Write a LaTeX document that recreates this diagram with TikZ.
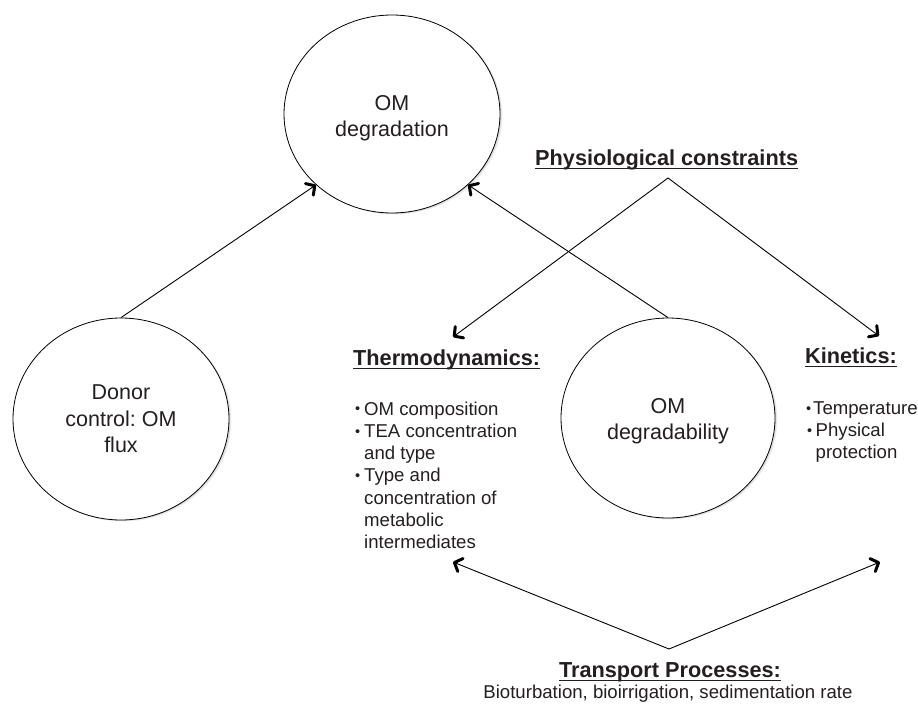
\documentclass[tikz,border=0pt]{standalone}
\usepackage{fontspec}
\setmainfont{Liberation Sans}
\usetikzlibrary{shapes.geometric,arrows.meta,shadows}
\definecolor{ink}{HTML}{231F20}
\newcommand\myul[1]{\setbox0\hbox{#1}\rlap{\rule[-4.3pt]{\wd0}{1.7pt}}\box0}
\newcommand\mybul{\raisebox{1.2pt}{\fontsize{14.5}{14.5}\selectfont •}}
\frenchspacing
\begin{document}
\begin{tikzpicture}[x=1pt,y=-1pt,
  txt/.style={text=ink, inner sep=0pt},
  bubble/.style={ellipse, draw=black, line width=0.8pt, fill=white, inner sep=0pt,
    drop shadow={shadow xshift=2.5pt,shadow yshift=-1.5pt,opacity=0.12},
    drop shadow={shadow xshift=1.5pt,shadow yshift=-0.8pt,opacity=0.18}},
  head/.style={txt, font=\bfseries\fontsize{21.7}{26}\selectfont},
  plain/.style={txt, font=\fontsize{18.6}{22.3}\selectfont},
  body/.style={txt, font=\fontsize{18.6}{22.3}\selectfont, align=left},
  big/.style={txt, font=\fontsize{21.5}{26.5}\selectfont, align=center},
  tipA/.tip={Straight Barb[length=6.5pt,width=14pt,line width'=3pt,round]},
  link/.style={line width=0.9pt, draw=black, -tipA},
  vlink/.style={line width=0.9pt, draw=black, tipA-tipA, line join=miter},
]
\useasboundingbox (0,0) rectangle (918,704);

% bubbles
\node[bubble, minimum width=216pt, minimum height=198pt] (deg) at (392,114) {};
\node[big] (degt) at (392,118) {OM\\degradation};
\node[bubble, minimum width=216pt, minimum height=202pt] (don) at (121,419) {};
\node[big] (dont) at (121,419) {Donor\\control: OM\\flux};
\node[bubble, minimum width=214pt, minimum height=200pt] (dty) at (668,418) {};
\node[big] (dtyt) at (668,421) {OM\\degradability};

% headings
\node[head, anchor=base west] (phys) at (535,165) {\myul{Physiological constraints}};
\node[head, anchor=base west] (thermo) at (353,365) {\myul{Thermodynamics:}};
\node[head, anchor=base west] (kin) at (805,363) {\myul{Kinetics:}};
\node[head, anchor=base] (trans) at (670,677) {\myul{Transport Processes:}};
\node[plain, anchor=base] (bio) at (668,698) {Bioturbation, bioirrigation, sedimentation rate};

% lists
\node[body, anchor=north west] (tlist) at (355,401.4) {\makebox[9pt][l]{\mybul}OM composition\\\makebox[9pt][l]{\mybul}TEA concentration\\\hspace*{9pt}and type\\\makebox[9pt][l]{\mybul}Type and\\\hspace*{9pt}concentration of\\\hspace*{9pt}metabolic\\\hspace*{9pt}intermediates};
\node[body, anchor=north west, font=\fontsize{18.6}{21.7}\selectfont] (klist) at (806,401.8) {\makebox[7pt][l]{\mybul}Temperature\\\hspace*{1pt}\makebox[8.5pt][l]{\mybul}Physical\\\hspace*{9.5pt}protection};

% connector end points
\coordinate (pa) at (668,178);
\coordinate (ta) at (453,337);
\coordinate (ka) at (879,336);
\coordinate (tra) at (669,649);
\coordinate (tl) at (453,562);
\coordinate (tr) at (880,562);

% connectors
\draw[link] (don.north) -- (deg.223);
\draw[link] (dty.north) -- (deg.317);
\draw[vlink] (ta) -- (pa) -- (ka);
\draw[vlink] (tl) -- (tra) -- (tr);
\end{tikzpicture}
\end{document}
